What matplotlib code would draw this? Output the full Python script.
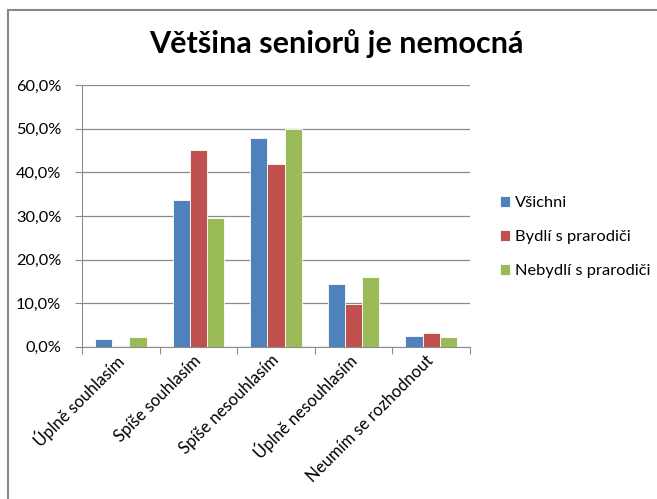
import matplotlib
matplotlib.use("Agg")
import matplotlib.pyplot as plt
import numpy as np
from matplotlib.patches import Rectangle
from matplotlib.ticker import FuncFormatter
from matplotlib.transforms import ScaledTranslation

plt.rcParams['font.family'] = ['Lato', 'DejaVu Sans']

categories = ["Úplně souhlasím", "Spíše souhlasím", "Spíše nesouhlasím",
              "Úplně nesouhlasím", "Neumím se rozhodnout"]
series_names = ["Všichni", "Bydlí s prarodiči", "Nebydlí s prarodiči"]
vsichni = [1.7, 33.6, 48.0, 14.4, 2.5]
bydli = [0.0, 45.2, 42.0, 9.8, 3.2]
nebydli = [2.2, 29.6, 50.0, 16.0, 2.2]
colors = ["#4F81BD", "#C0504D", "#9BBB59"]

fig = plt.figure(figsize=(6.57, 4.99), dpi=100)
# chart border
fig.patches.append(Rectangle((8 / 657, -0.1), 1.2, 1 - 10 / 499 + 0.1,
                             transform=fig.transFigure, fill=False,
                             edgecolor="#888888", linewidth=1.5))

ax = fig.add_axes([82 / 657, 1 - 346.7 / 499, 388 / 657, 261.4 / 499])

x = np.arange(len(categories))
w = 1 / 4.5
for i, (vals, name) in enumerate(zip([vsichni, bydli, nebydli], series_names)):
    ax.bar(x + (i - 1) * w, vals, width=w, color=colors[i], label=name,
           edgecolor="white", linewidth=0.6, zorder=3)

ax.set_xlim(-0.5, len(categories) - 0.5)
ax.set_ylim(0, 60)
ax.set_yticks(np.arange(0, 61, 10))
ax.yaxis.set_major_formatter(FuncFormatter(lambda v, p: f"{v:.1f}%".replace(".", ",")))
ax.yaxis.grid(True, color="#8c8c8c", linewidth=0.9, zorder=0)

ax.set_xticks(np.arange(-0.5, len(categories), 1.0))
ax.set_xticklabels([])
ax.set_xticks(x, minor=True)
ax.set_xticklabels(categories, minor=True, rotation=45, ha="right",
                   va="center", rotation_mode="anchor", fontsize=12)
shift = ScaledTranslation(6 / 100, 0, fig.dpi_scale_trans)
for lbl in ax.get_xticklabels(minor=True):
    lbl.set_transform(lbl.get_transform() + shift)
ax.tick_params(axis="x", which="major", length=5, color="#8c8c8c")
ax.tick_params(axis="x", which="minor", length=0, pad=8)
ax.tick_params(axis="y", length=5, color="#8c8c8c", labelsize=11.8, pad=10)

for s in ["top", "right"]:
    ax.spines[s].set_visible(False)
for s in ["left", "bottom"]:
    ax.spines[s].set_color("#8c8c8c")

fig.text(336 / 657, 1 - 44 / 499, "Většina seniorů je nemocná",
         ha="center", va="center", fontsize=22, fontweight="bold")

ax.legend(loc="center left", bbox_to_anchor=(1.06, 0.42), frameon=False,
          fontsize=11.8, handlelength=0.65, handleheight=0.65,
          handletextpad=0.3, labelspacing=1.2, borderaxespad=0)

fig.savefig("out.png", dpi=100)
